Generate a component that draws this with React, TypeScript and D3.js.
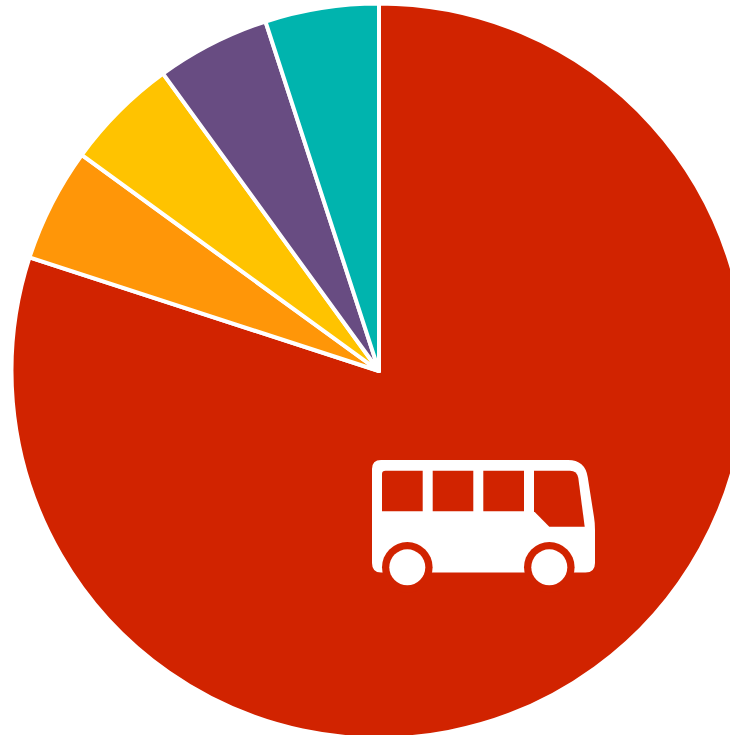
import React from "react";
import * as d3 from "d3";

const categories = ["Bus", "Orange", "Yellow", "Purple", "Teal"];
const shares = [80, 5, 5, 5, 5];
const colors = ["#d12300", "#ff9608", "#ffc300", "#684c82", "#00b4ae"];

const WIDTH = 730;
const HEIGHT = 735;
const CX = 379;
const CY = 371;
const RADIUS = 367.5;

const busBody =
  "M381 460 H568 Q585 460 587.7 477 L594 517 Q595 523 595 530 V563 Q595 572.5 585.5 572.5 H381 Q372 572.5 372 563 V469 Q372 460 381 460 Z";
const busWindows = [
  "M382 474 Q382 470.7 385.5 470.7 H422.7 V511.3 H382 Z",
  "M432.7 470.7 H473.3 V511.3 H432.7 Z",
  "M483.3 470.7 H524 V511.3 H483.3 Z",
  "M534 470.7 H570 Q577 470.7 578.3 478 L584.7 526.7 H549.3 L534 511.3 Z",
];
const wheelCentersX = [407.3, 549.3];
const wheelY = 567.3;

export default function App() {
  const pie = d3.pie<number>().sort(null).startAngle(0).endAngle(2 * Math.PI);
  const arc = d3.arc<d3.PieArcDatum<number>>().innerRadius(0).outerRadius(RADIUS);
  const slices = pie(shares);
  return (
    <svg
      width={WIDTH}
      height={HEIGHT}
      viewBox={`0 0 ${WIDTH} ${HEIGHT}`}
      style={{ position: "fixed", left: 0, top: 0, display: "block", background: "#fff" }}
    >
      <g transform={`translate(${CX},${CY})`}>
        {slices.map((s, i) => (
          <path
            key={categories[i]}
            d={arc(s) ?? ""}
            fill={colors[i]}
            stroke="#fff"
            strokeWidth={4}
            strokeLinejoin="round"
          />
        ))}
      </g>
      <g>
        <path d={busBody} fill="#fff" />
        {busWindows.map((d) => (
          <path key={d} d={d} fill={colors[0]} />
        ))}
        {wheelCentersX.map((x) => (
          <g key={x}>
            <circle cx={x} cy={wheelY} r={25.3} fill={colors[0]} />
            <circle cx={x} cy={wheelY} r={18} fill="#fff" />
          </g>
        ))}
      </g>
    </svg>
  );
}
